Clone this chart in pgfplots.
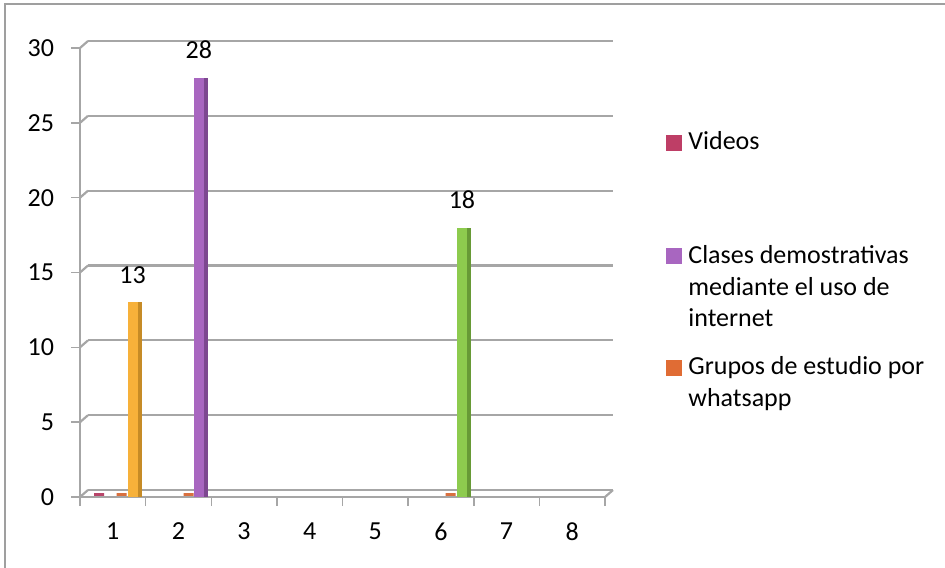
\documentclass[border=0pt]{standalone}
\usepackage{fontspec}
\setmainfont{Carlito}
\usepackage{pgfplots}
\pgfplotsset{compat=1.18}
\definecolor{gridgray}{HTML}{A6A6A6}
\definecolor{vid}{HTML}{BE3E66}
\definecolor{cla}{HTML}{A866C0}
\definecolor{gru}{HTML}{E06C34}
\definecolor{yel}{HTML}{F7B13A}
\definecolor{yeld}{HTML}{C68B26}
\definecolor{purd}{HTML}{7D4890}
\definecolor{grn}{HTML}{8DCB4E}
\definecolor{grnd}{HTML}{679A36}
\definecolor{redslab}{HTML}{B8456A}
\definecolor{orslab}{HTML}{D9703F}
\newcommand{\fnt}{\fontsize{13}{15.85}\selectfont}
\pgfplotsset{
  frame/.style={at={(0pt,0pt)}, anchor=south west, scale only axis, width=262.5pt, height=224.5pt},
  mylegend/.style={legend cell align=left,
    legend style={draw=none, fill=none, inner sep=0pt, outer sep=0pt, row sep=0pt, anchor=north west,
      nodes={inner sep=0pt, font=\fnt, text height=11.1pt, text depth=4.75pt},
      /tikz/every odd column/.append style={column sep=3.3pt}}},
}
\begin{document}
\begin{tikzpicture}
\path[use as bounding box] (-40pt,-35pt) rectangle (432.5pt,248.5pt);
\draw[gray!75, line width=0.75pt] (-37.5pt,-36pt) -- (-37.5pt,246.5pt) -- (433pt,246.5pt);
\begin{axis}[
  frame,
  xmin=0.5, xmax=8.5, ymin=0, ymax=30,
  clip=false,
  axis x line*=bottom, axis y line*=left,
  axis line style={draw=gridgray, line width=0.9pt, -},
  xtick={0.5,1.5,...,8.5}, xticklabels={},
  extra x ticks={1,2,3,4,5,6,7,8}, extra x tick labels={1,2,3,4,5,6,7,8},
  extra x tick style={major tick length=0pt, tick label style={yshift=-9.5pt}},
  ytick={0,5,...,30},
  yticklabel style={xshift=-5pt},
  tick align=outside, major tick length=4.5pt,
  tick style={draw=gridgray, line width=0.75pt},
  ymajorgrids,
  major grid style={draw=gridgray, line width=1.1pt, shift={(4pt,3.5pt)}},
  tick label style={font=\fnt},
  /pgf/number format/assume math mode=true,
  mylegend, legend style={at={(1.1162,0.8223)}},
]
\pgfplotsinvokeforeach{0,5,...,30}{\draw[gridgray, line width=1.1pt] (axis cs:0.5,#1) -- ++(4pt,3.5pt);}
\draw[gridgray, line width=1.1pt] (axis cs:8.5,0) -- ++(4pt,3.5pt);
% zero-valued series shown as flat slabs
\addplot[ybar, bar width=5pt, bar shift=0pt, draw=redslab, fill=redslab, line width=1.5pt, yshift=1.5pt, forget plot] coordinates {(0.793,0)};
\addplot[ybar, bar width=5pt, bar shift=0pt, draw=orslab, fill=orslab, line width=1.5pt, yshift=1.5pt, forget plot] coordinates {(1.136,0) (2.157,0) (6.146,0)};
% bars
\addplot[ybar, bar width=5pt, bar shift=0pt, fill=yel, draw=none, forget plot, nodes near coords, every node near coord/.append style={anchor=base, yshift=9.5pt, font=\fnt, text=black}] coordinates {(1.30,13)};
\addplot[ybar, bar width=2pt, bar shift=3.5pt, fill=yeld, draw=none, forget plot] coordinates {(1.30,13)};
\addplot[ybar, bar width=5pt, bar shift=0pt, fill=cla, draw=none, forget plot, nodes near coords, every node near coord/.append style={anchor=base, yshift=9.5pt, font=\fnt, text=black}] coordinates {(2.31,28)};
\addplot[ybar, bar width=2pt, bar shift=3.5pt, fill=purd, draw=none, forget plot] coordinates {(2.31,28)};
\addplot[ybar, bar width=5pt, bar shift=0pt, fill=grn, draw=none, forget plot, nodes near coords, every node near coord/.append style={anchor=base, yshift=9.5pt, font=\fnt, text=black}] coordinates {(6.32,18)};
\addplot[ybar, bar width=2pt, bar shift=3.5pt, fill=grnd, draw=none, forget plot] coordinates {(6.32,18)};
\addlegendimage{legend image code/.code={\fill[vid] (0pt,-3.2pt) rectangle (7.5pt,4.3pt);}}
\addlegendentry{Videos}
\end{axis}
\begin{axis}[frame, hide axis, xmin=0, xmax=1, ymin=0, ymax=1,
  mylegend, legend style={at={(1.1162,0.5699)}}]
\addlegendimage{legend image code/.code={\fill[cla] (0pt,-3.2pt) rectangle (7.5pt,4.3pt);}}
\addlegendentry{Clases demostrativas}
\addlegendimage{empty legend}
\addlegendentry{mediante el uso de}
\addlegendimage{empty legend}
\addlegendentry{internet}
\end{axis}
\begin{axis}[frame, hide axis, xmin=0, xmax=1, ymin=0, ymax=1,
  mylegend, legend style={at={(1.1162,0.3212)}}]
\addlegendimage{legend image code/.code={\fill[gru] (0pt,-3.2pt) rectangle (7.5pt,4.3pt);}}
\addlegendentry{Grupos de estudio por}
\addlegendimage{empty legend}
\addlegendentry{whatsapp}
\end{axis}
\end{tikzpicture}
\end{document}
